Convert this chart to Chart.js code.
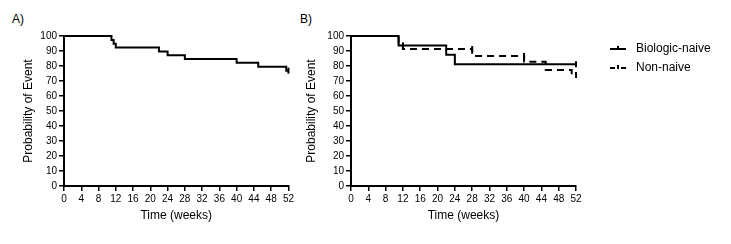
<!DOCTYPE html>
<html>
<head>
<meta charset="utf-8">
<script src="https://cdn.jsdelivr.net/npm/chart.js@4"></script>
<style>
  body { margin: 0; background: #fff; width: 731px; height: 244px; position: relative; overflow: hidden; font-family: 'Liberation Sans', Arial, sans-serif; }
  canvas { position: absolute; top: 0; }
  .tag { position: absolute; top: 12px; font-size: 12px; color: #000; }
</style>
</head>
<body>
<div class="tag" style="left:12px">A)</div>
<div class="tag" style="left:300px">B)</div>
<canvas id="chartA" width="296" height="244" style="left:0"></canvas>
<canvas id="chartB" width="435" height="244" style="left:296px"></canvas>
<script>
// panel A: all patients
const weeksA = [0, 11, 11.5, 12, 22, 24, 28, 40, 45, 51.5, 52];
const probA = [100, 97.4, 94.9, 92.3, 89.7, 87.2, 84.6, 82.1, 79.5, 76.9, 76.9];
const censorA = [52];

// panel B: by prior biologic use
const weeksNaive = [0, 11, 22, 24, 52];
const probNaive = [100, 93.75, 87.5, 81.25, 81.25];
const censorNaive = [12, 52];
const weeksNon = [0, 11, 12, 28, 40, 45, 51, 52];
const probNon = [100, 95.7, 91.3, 86.7, 82.9, 77.3, 74, 74];
const censorNon = [28, 40, 52];

const seriesNames = ["Biologic-naive", "Non-naive"];
const xTicks = [0, 4, 8, 12, 16, 20, 24, 28, 32, 36, 40, 44, 48, 52];
const yTicks = [0, 10, 20, 30, 40, 50, 60, 70, 80, 90, 100];

Chart.defaults.font.family = "'Liberation Sans', Arial, sans-serif";
Chart.defaults.color = "#000";

function toPts(xs, ys) {
  return xs.map((x, i) => ({ x: x, y: ys[i] }));
}
// value of a step curve at time t
function valueAt(xs, ys, t) {
  let v = ys[0];
  xs.forEach((x, i) => { if (x < t || (x === t && i === xs.length - 1)) v = ys[i]; });
  return v;
}
function censorPts(cs, xs, ys) {
  return cs.map(c => ({ x: c, y: valueAt(xs, ys, c) }));
}

// little legend sample: short line with a censor tick, empty space on the left
function legendSample(dashed) {
  const c = document.createElement("canvas");
  c.width = 47;
  c.height = 12;
  const g = c.getContext("2d");
  g.strokeStyle = "#000";
  g.lineWidth = 2;
  if (dashed) {
    g.beginPath(); g.moveTo(27, 6); g.lineTo(32, 6); g.stroke();
    g.beginPath(); g.moveTo(38, 6); g.lineTo(43, 6); g.stroke();
  } else {
    g.beginPath(); g.moveTo(27, 6); g.lineTo(43, 6); g.stroke();
  }
  g.beginPath(); g.moveTo(35, 3); g.lineTo(35, 7); g.stroke();
  return c;
}

function stepSet(label, xs, ys, dash, sample) {
  return {
    label: label,
    data: toPts(xs, ys),
    stepped: true,
    borderColor: "#000",
    borderWidth: 2,
    borderDash: dash,
    pointRadius: 0,
    pointStyle: sample || "line",
    fill: false,
    clip: false
  };
}
function censorSet(pts) {
  return {
    label: "",
    data: pts,
    showLine: false,
    pointStyle: "line",
    rotation: 90,
    pointRadius: 3,
    borderColor: "#000",
    borderWidth: 2,
    clip: false
  };
}

function scalesFor(yWidth, yTitlePad) {
  return {
    x: {
      type: "linear",
      min: 0,
      max: 52,
      afterBuildTicks: s => { s.ticks = xTicks.map(v => ({ value: v })); },
      ticks: { font: { size: 10 }, padding: 2, maxRotation: 0, autoSkip: false },
      grid: { drawOnChartArea: false, color: "#000", lineWidth: 1.5, tickLength: 5 },
      border: { color: "#000", width: 2 },
      title: { display: true, text: "Time (weeks)", font: { size: 12 }, padding: { top: 0, bottom: 13 } },
      afterFit: s => { s.height = 50; }
    },
    y: {
      min: 0,
      max: 100,
      afterBuildTicks: s => { s.ticks = yTicks.map(v => ({ value: v })); },
      ticks: { font: { size: 10 }, padding: 2 },
      grid: { drawOnChartArea: false, color: "#000", lineWidth: 1.5, tickLength: 5 },
      border: { color: "#000", width: 2 },
      title: { display: true, text: "Probability of Event", font: { size: 12 }, padding: { top: yTitlePad, bottom: 0 } },
      afterFit: s => { s.width = yWidth; }
    }
  };
}

new Chart(document.getElementById("chartA"), {
  type: "line",
  data: {
    datasets: [
      stepSet("All", weeksA, probA, []),
      censorSet(censorPts(censorA, weeksA, probA))
    ]
  },
  options: {
    responsive: false,
    animation: false,
    layout: { padding: { left: 10, top: 36, right: 7, bottom: 8 } },
    scales: scalesFor(54, 11),
    plugins: { legend: { display: false }, tooltip: { enabled: false } }
  }
});

new Chart(document.getElementById("chartB"), {
  type: "line",
  data: {
    datasets: [
      stepSet(seriesNames[0], weeksNaive, probNaive, [], legendSample(false)),
      stepSet(seriesNames[1], weeksNon, probNon, [7, 5], legendSample(true)),
      censorSet(censorPts(censorNaive, weeksNaive, probNaive)),
      censorSet(censorPts(censorNon, weeksNon, probNon))
    ]
  },
  options: {
    responsive: false,
    animation: false,
    layout: { padding: { left: 0, top: 36, right: 19, bottom: 8 } },
    scales: scalesFor(55, 8),
    plugins: {
      tooltip: { enabled: false },
      legend: {
        position: "right",
        align: "start",
        maxWidth: 136,
        labels: {
          usePointStyle: true,
          pointStyleWidth: 47,
          padding: 7,
          font: { size: 12 },
          color: "#000",
          filter: item => seriesNames.includes(item.text)
        }
      }
    }
  }
});
</script>
</body>
</html>
